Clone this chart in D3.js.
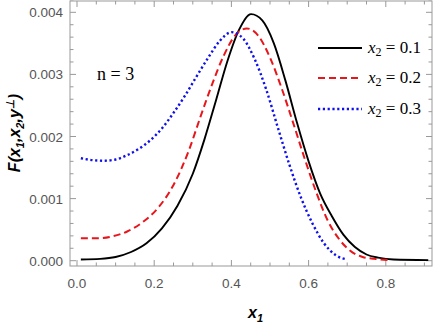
<!DOCTYPE html>
<html><head><meta charset="utf-8">
<script src="https://cdn.jsdelivr.net/npm/d3@7"></script>
<style>body{margin:0;background:#fff}svg{display:block}</style>
</head><body><svg id="c" width="436" height="327"></svg>
<script>
// ---- data ----
const xTicks = [0.0, 0.2, 0.4, 0.6, 0.8];
const xTickLabels = ["0.0", "0.2", "0.4", "0.6", "0.8"];
const yTicks = [0.000, 0.001, 0.002, 0.003, 0.004];
const yTickLabels = ["0.000", "0.001", "0.002", "0.003", "0.004"];

const x1Black = [0.01,0.06,0.10,0.14,0.18,0.22,0.26,0.30,0.33,0.36,0.39,0.42,0.451,0.48,0.51,0.54,0.57,0.60,0.63,0.66,0.69,0.72,0.75,0.78,0.82,0.91];
const fBlack  = [0.00002,0.00003,0.00006,0.00014,0.00028,0.00052,0.00088,0.00140,0.00195,0.00258,0.00322,0.00372,0.00397,0.00387,0.0035,0.0029,0.00222,0.00160,0.00108,0.00072,0.00042,0.00022,0.0001,0.00005,0.00002,0.00001];

const x1Red = [0.01,0.05,0.09,0.13,0.17,0.21,0.25,0.29,0.32,0.35,0.38,0.41,0.44,0.47,0.50,0.53,0.56,0.59,0.62,0.65,0.68,0.71,0.74,0.77,0.813];
const fRed  = [0.00036,0.00036,0.00039,0.00047,0.00062,0.00085,0.00122,0.00178,0.00232,0.00284,0.0033,0.00363,0.00374,0.00362,0.00327,0.00278,0.00222,0.00164,0.00110,0.00064,0.00034,0.00015,0.00006,0.00003,0.00001];

const x1Blue = [0.01,0.04,0.07,0.10,0.13,0.16,0.19,0.22,0.25,0.28,0.31,0.34,0.37,0.40,0.43,0.46,0.49,0.52,0.55,0.58,0.61,0.64,0.67,0.70];
const fBlue  = [0.00165,0.00162,0.00161,0.00163,0.0017,0.0018,0.00194,0.00213,0.00238,0.00266,0.00297,0.00327,0.00354,0.00368,0.00358,0.00325,0.00276,0.00215,0.00155,0.00102,0.0006,0.00028,0.00009,0.00002];

const seriesNames = ["0.1", "0.2", "0.3"];
const seriesColors = ["#000000", "#e8151b", "#1010ee"];

const SANS = "'Liberation Sans'";
const SERIF = "'Liberation Serif'";

// ---- layout ----
const svg = d3.select("#c");
const L = 70, R = 432, T = 1, B = 266;
const x = d3.scaleLinear().domain([0, 0.2]).range([77, 154.2]);
const y = d3.scaleLinear().domain([0, 0.001]).range([260.7, 198.6]);
const frameColor = "#999";

svg.append("rect").attr("x", L).attr("y", T).attr("width", R - L).attr("height", B - T)
  .attr("fill", "none").attr("stroke", frameColor).attr("stroke-width", 1);

const g = svg.append("g");
d3.range(0, 0.93, 0.05).forEach((v, i) => {
  const len = i % 4 === 0 ? 6 : 3.5;
  const px = x(v);
  g.append("line").attr("x1", px).attr("x2", px).attr("y1", B).attr("y2", B - len).attr("stroke", frameColor);
  g.append("line").attr("x1", px).attr("x2", px).attr("y1", T).attr("y2", T + len).attr("stroke", frameColor);
});
d3.range(0, 0.00421, 0.0002).forEach((v, i) => {
  const len = i % 5 === 0 ? 6 : 3.5;
  const py = y(v);
  g.append("line").attr("x1", L).attr("x2", L + len).attr("y1", py).attr("y2", py).attr("stroke", frameColor);
  g.append("line").attr("x1", R).attr("x2", R - len).attr("y1", py).attr("y2", py).attr("stroke", frameColor);
});

xTicks.forEach((v, i) => {
  svg.append("text").style("font-family", SANS).attr("x", x(v)).attr("y", 288).attr("text-anchor", "middle")
    .attr("font-size", 13.5).attr("fill", "#555").text(xTickLabels[i]);
});
yTicks.forEach((v, i) => {
  svg.append("text").style("font-family", SANS).attr("x", 63).attr("y", y(v) + 5).attr("text-anchor", "end")
    .attr("font-size", 13.5).attr("fill", "#555").text(yTickLabels[i]);
});

const xl = svg.append("text").style("font-family", SANS).attr("x", 248).attr("y", 318)
  .attr("font-weight", "bold").attr("font-style", "italic").attr("font-size", 16).attr("fill", "#000");
xl.append("tspan").text("x");
xl.append("tspan").attr("dy", 4).attr("font-size", 11).text("1");

const yl = svg.append("text").style("font-family", SANS).attr("transform", "translate(20,133) rotate(-90)").attr("text-anchor", "middle")
  .attr("font-weight", "bold").attr("font-style", "italic").attr("font-size", 16).attr("fill", "#000");
yl.append("tspan").text("F(x");
yl.append("tspan").attr("dy", 4).attr("font-size", 11).text("1");
yl.append("tspan").attr("dy", -4).text(",x");
yl.append("tspan").attr("dy", 4).attr("font-size", 11).text("2");
yl.append("tspan").attr("dy", -4).text(",y");
yl.append("tspan").attr("dy", -6).attr("font-size", 11).text("⊥");
yl.append("tspan").attr("dy", 6).text(")");

const line = d3.line().x(d => x(d[0])).y(d => y(d[1])).curve(d3.curveMonotoneX);
const series = [
  {xs: x1Black, ys: fBlack, dash: null, w: 1.9},
  {xs: x1Red, ys: fRed, dash: "7,4", w: 2},
  {xs: x1Blue, ys: fBlue, dash: "2.2,2.6", w: 2.4}
];
series.forEach((s, i) => {
  svg.append("path").datum(d3.zip(s.xs, s.ys)).attr("d", line)
    .attr("fill", "none").attr("stroke", seriesColors[i]).attr("stroke-width", s.w)
    .attr("stroke-dasharray", s.dash);
});

const legY = [48, 78, 109];
series.forEach((s, i) => {
  svg.append("line").attr("x1", 318).attr("x2", 362).attr("y1", legY[i]).attr("y2", legY[i])
    .attr("stroke", seriesColors[i]).attr("stroke-width", s.w).attr("stroke-dasharray", s.dash);
  const t = svg.append("text").style("font-family", SERIF).attr("x", 368).attr("y", legY[i] + 5)
    .attr("font-size", 17).attr("fill", "#000");
  t.append("tspan").attr("font-style", "italic").text("x");
  t.append("tspan").attr("dy", 3).attr("font-size", 12).text("2");
  t.append("tspan").attr("dy", -3).text(" = " + seriesNames[i]);
});

svg.append("text").style("font-family", SERIF).attr("x", 97).attr("y", 80)
  .attr("font-size", 18).attr("fill", "#000").text("n = 3");
</script>
</body></html>
